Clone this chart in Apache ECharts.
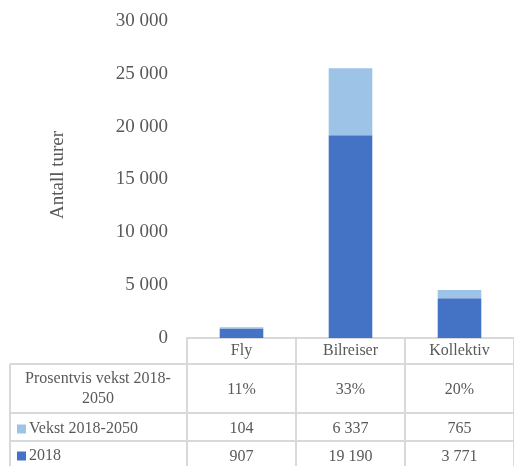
<!DOCTYPE html>
<html>
<head>
<meta charset="utf-8">
<script src="https://cdn.jsdelivr.net/npm/echarts@6/dist/echarts.min.js"></script>
<style>
html,body{margin:0;padding:0;background:#fff;}
#chart{width:514px;height:466px;}
</style>
</head>
<body>
<div id="chart"></div>
<script>
const categories = ['Fly', 'Bilreiser', 'Kollektiv'];
const base2018 = [907, 19190, 3771];
const growth = [104, 6337, 765];
const pctGrowth = ['11%', '33%', '20%'];
const seriesNames = ['Vekst 2018-2050', '2018'];
const rowTitle = 'Prosentvis vekst 2018-\n2050';
const yTitle = 'Antall turer';

function fmt(v) {
  return String(v).replace(/\B(?=(\d{3})+(?!\d))/g, ' ');
}

const FONT = 'Liberation Serif';
const TXT = '#595959';
const LINE = '#d9d9d9';

const chart = echarts.init(document.getElementById('chart'), null, {renderer: 'canvas'});

const gridTop = 21, gridBottomY = 338;

function rowAxis(data, offset) {
  return {
    type: 'category', gridIndex: 0, position: 'bottom', data: data, offset: offset,
    axisLine: {show: false}, axisTick: {show: false},
    axisLabel: {margin: 0, interval: 0, color: TXT, fontFamily: FONT, fontSize: 16}
  };
}

function legendFor(name, top) {
  return {
    data: [name], left: 12, top: top,
    itemWidth: 9, itemHeight: 9, icon: 'rect', selectedMode: false, itemGap: 0,
    textStyle: {color: TXT, fontFamily: FONT, fontSize: 16, padding: [0, 0, 0, -2]}
  };
}

chart.setOption({
  animation: false,
  grid: {left: 187, width: 330, top: gridTop, height: gridBottomY - gridTop, containLabel: false},
  legend: [legendFor(seriesNames[0], 416), legendFor(seriesNames[1], 443)],
  xAxis: [
    {
      type: 'category', data: categories, gridIndex: 0,
      axisLine: {show: true, lineStyle: {color: LINE, width: 2}},
      axisTick: {show: true, length: 130, interval: 0, alignWithLabel: false, lineStyle: {color: LINE, width: 2}},
      axisLabel: {margin: 5, color: TXT, fontFamily: FONT, fontSize: 16}
    },
    rowAxis(pctGrowth, 44),
    rowAxis(growth.map(fmt), 83),
    rowAxis(base2018.map(fmt), 111)
  ],
  yAxis: {
    type: 'value', min: 0, max: 30000, interval: 5000,
    axisLine: {show: false}, axisTick: {show: false}, splitLine: {show: false},
    axisLabel: {margin: 19, color: TXT, fontFamily: FONT, fontSize: 19, padding: [4, 0, 0, 0], formatter: v => fmt(v)}
  },
  series: [
    {name: '2018', type: 'bar', stack: 'total', data: base2018, barWidth: '40%',
     itemStyle: {color: '#4472C4'}},
    {name: 'Vekst 2018-2050', type: 'bar', stack: 'total', data: growth, barWidth: '40%',
     itemStyle: {color: '#9DC3E6'}}
  ],
  graphic: [
    {type: 'line', shape: {x1: 10, y1: 364, x2: 517, y2: 364}, style: {stroke: LINE, lineWidth: 2}, silent: true},
    {type: 'line', shape: {x1: 10, y1: 413, x2: 517, y2: 413}, style: {stroke: LINE, lineWidth: 2}, silent: true},
    {type: 'line', shape: {x1: 10, y1: 441, x2: 517, y2: 441}, style: {stroke: LINE, lineWidth: 2}, silent: true},
    {type: 'line', shape: {x1: 10, y1: 364, x2: 10, y2: 470}, style: {stroke: LINE, lineWidth: 2}, silent: true},
    {type: 'text', position: [98, 389], silent: true,
     style: {text: rowTitle, fill: TXT, font: '16px "' + FONT + '"', textAlign: 'center', textVerticalAlign: 'middle', lineHeight: 20}},
    {type: 'text', position: [58, 175], rotation: Math.PI / 2, silent: true,
     style: {text: yTitle, fill: TXT, font: '19px "' + FONT + '"', textAlign: 'center', textVerticalAlign: 'middle'}}
  ]
});
</script>
</body>
</html>
